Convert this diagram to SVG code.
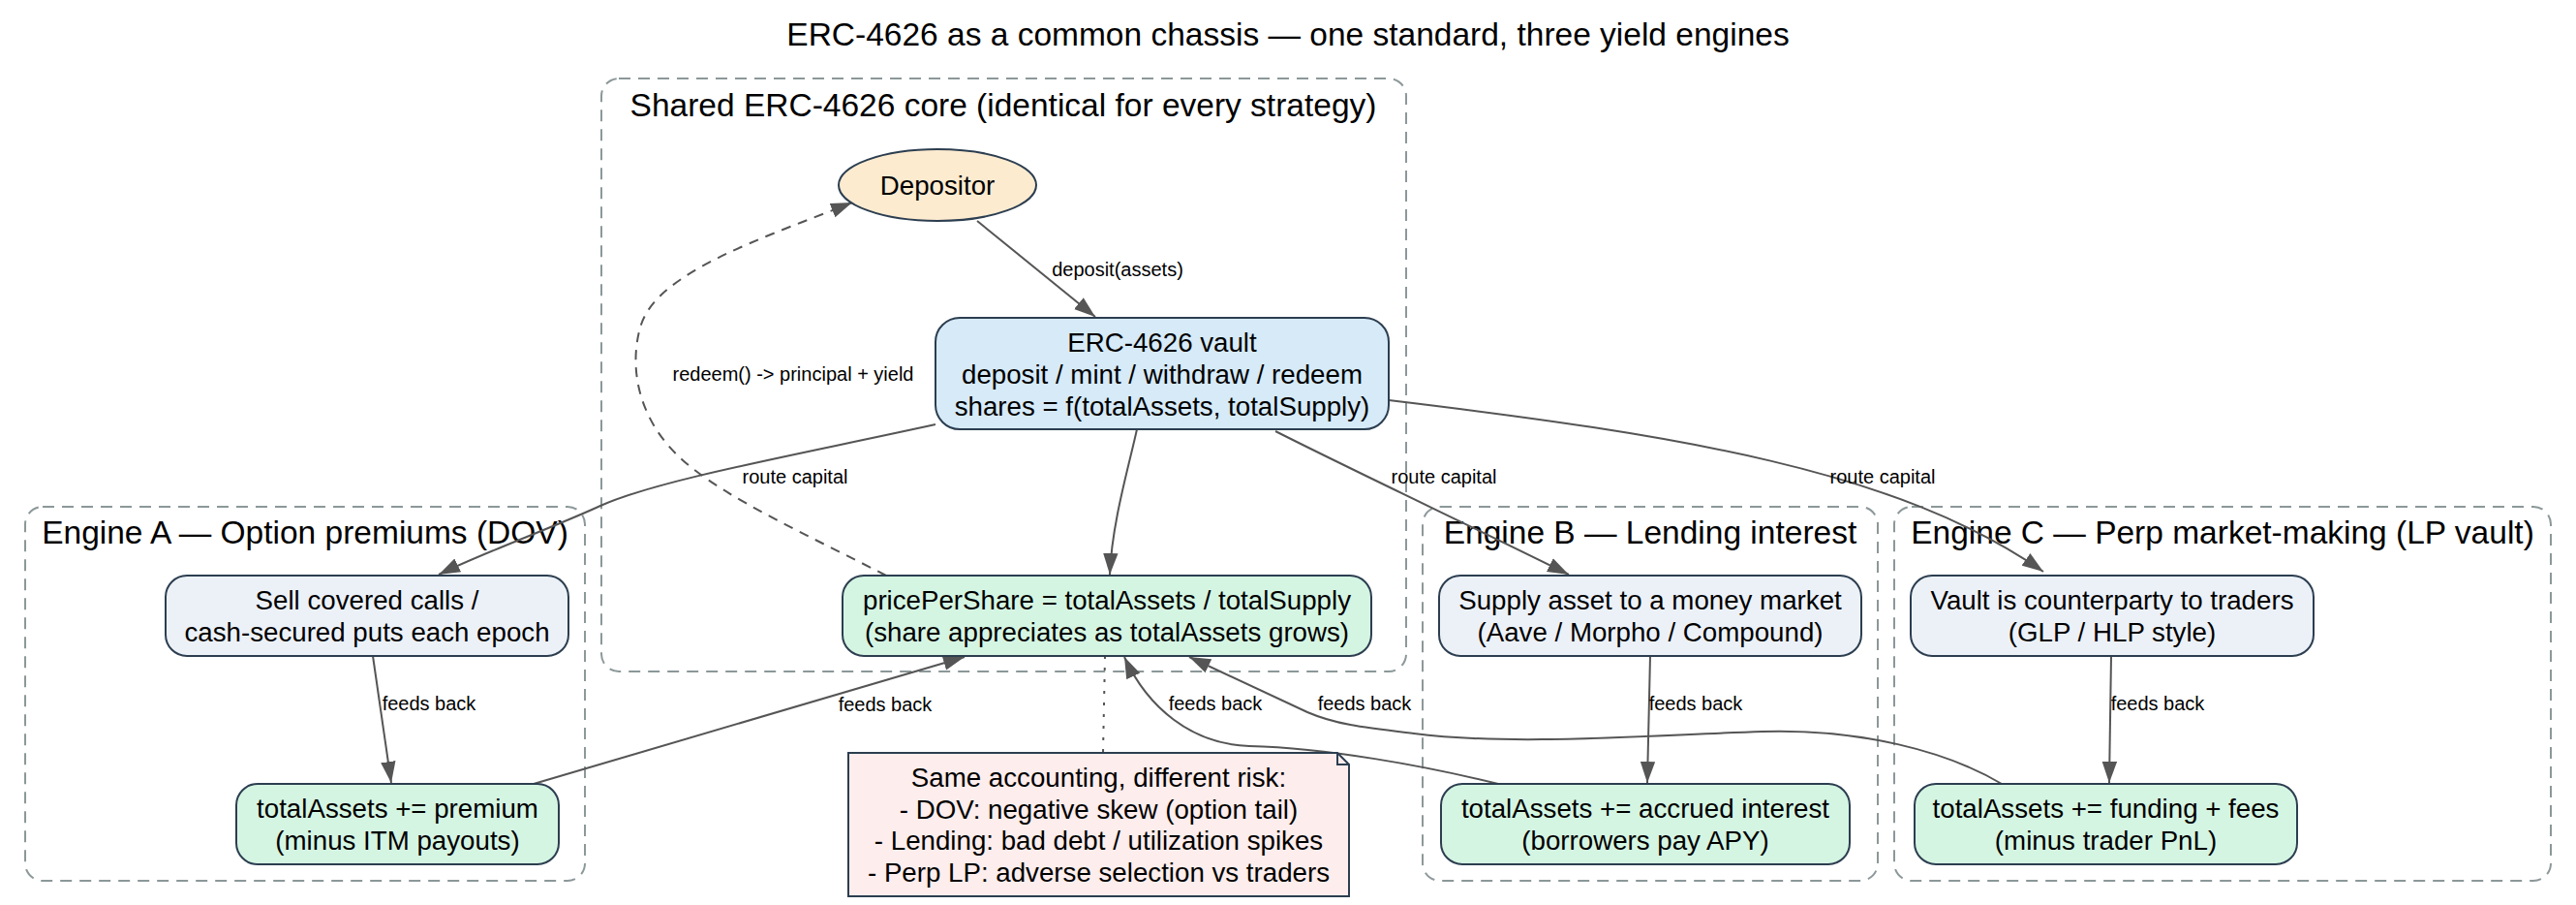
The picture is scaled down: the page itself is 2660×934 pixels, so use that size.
<svg xmlns="http://www.w3.org/2000/svg" width="2660" height="934" viewBox="0 0 2660 934">
<defs>
<style>
.cl{fill:none;stroke:#8c9899;stroke-width:2;stroke-dasharray:12,8}
.cll{font-family:"Liberation Sans",Arial,sans-serif;font-size:33.5px;fill:#000;text-anchor:middle}
.n{stroke:#2c3e50;stroke-width:2}
.nt{font-family:"Liberation Sans",Arial,sans-serif;font-size:27.7px;fill:#000;text-anchor:middle}
.e{fill:none;stroke:#555;stroke-width:2}
.el{font-family:"Liberation Sans",Arial,sans-serif;font-size:20px;fill:#000;text-anchor:middle}
.step{fill:#ecf1f8}
.res{fill:#d5f5e3}
</style>
<marker id="ah" markerUnits="userSpaceOnUse" markerWidth="22" markerHeight="16" viewBox="0 0 20 14" refX="20" refY="7" orient="auto">
<path d="M0,0 L20,7 L0,14 z" fill="#555"/>
</marker>
</defs>
<rect width="2660" height="934" fill="#fff"/>
<text x="1330" y="47" class="cll">ERC-4626 as a common chassis — one standard, three yield engines</text>

<g id="cluster_core">
<rect class="cl" x="621" y="81" width="831" height="612" rx="18"/>
<text x="1036" y="120" class="cll">Shared ERC-4626 core (identical for every strategy)</text>
</g>
<g id="cluster_A">
<rect class="cl" x="26" y="523" width="578" height="386" rx="18"/>
<text x="315" y="561" class="cll">Engine A — Option premiums (DOV)</text>
</g>
<g id="cluster_B">
<rect class="cl" x="1469" y="523" width="470" height="386" rx="18"/>
<text x="1704" y="561" class="cll">Engine B — Lending interest</text>
</g>
<g id="cluster_C">
<rect class="cl" x="1956" y="523" width="678" height="386" rx="18"/>
<text x="2295" y="561" class="cll">Engine C — Perp market-making (LP vault)</text>
</g>

<g id="connectors">
<path class="e" marker-end="url(#ah)" d="M1009,228 L1131,327"/>
<text x="1154" y="285" class="el">deposit(assets)</text>
<path class="e" marker-end="url(#ah)" d="M1174,443 C1166,480 1148,540 1146,593"/>
<path class="e" marker-end="url(#ah)" d="M966,438 C820,470 680,495 620,522 C570,545 500,570 453,593"/>
<text x="821" y="499" class="el">route capital</text>
<path class="e" marker-end="url(#ah)" d="M1317,445 C1400,487 1540,553 1620,593"/>
<text x="1491" y="499" class="el">route capital</text>
<path class="e" marker-end="url(#ah)" d="M1434,413 C1734,449 1960,485 2110,590"/>
<text x="1944" y="499" class="el">route capital</text>
<path class="e" marker-end="url(#ah)" d="M385,677 L404,808"/>
<text x="443" y="733" class="el">feeds back</text>
<path class="e" marker-end="url(#ah)" d="M551,809 L996,678"/>
<text x="914" y="734" class="el">feeds back</text>
<path class="e" marker-end="url(#ah)" d="M1704,677 L1701,808"/>
<text x="1751" y="733" class="el">feeds back</text>
<path class="e" marker-end="url(#ah)" d="M2180,677 L2178,808"/>
<text x="2228" y="733" class="el">feeds back</text>
<path class="e" marker-end="url(#ah)" d="M1547,809 C1470,790 1370,772 1290,770 C1230,768 1185,730 1161,678"/>
<text x="1255" y="733" class="el">feeds back</text>
<path class="e" marker-end="url(#ah)" d="M2067,809 C2010,775 1920,752 1820,755 C1700,759 1560,770 1460,757 C1410,751 1380,748 1350,735 L1228,678"/>
<text x="1409" y="733" class="el">feeds back</text>
<path class="e" stroke-dasharray="10,8" marker-end="url(#ah)" d="M915,594 C840,555 750,515 705,475 C660,435 648,380 662,335 C680,280 790,245 880,209"/>
<text x="819" y="393" class="el">redeem() -&gt; principal + yield</text>
<path class="e" stroke-dasharray="3,9" d="M1141,677 L1139,777"/>
</g>

<g id="depositor">
<ellipse class="n" cx="968" cy="191" rx="102" ry="37" fill="#fdebd0"/>
<text x="968" y="201" class="nt">Depositor</text>
</g>
<g id="vault">
<rect class="n" x="966" y="328" width="468" height="115" rx="25" fill="#d6eaf8"/>
<text x="1200" y="363" class="nt">ERC-4626 vault</text>
<text x="1200" y="396" class="nt">deposit / mint / withdraw / redeem</text>
<text x="1200" y="429" class="nt">shares = f(totalAssets, totalSupply)</text>
</g>
<g id="pps">
<rect class="n res" x="870" y="594" width="546" height="83" rx="22"/>
<text x="1143" y="629" class="nt">pricePerShare = totalAssets / totalSupply</text>
<text x="1143" y="662" class="nt">(share appreciates as totalAssets grows)</text>
</g>
<g id="a_step">
<rect class="n step" x="171" y="594" width="416" height="83" rx="22"/>
<text x="379" y="629" class="nt">Sell covered calls /</text>
<text x="379" y="662" class="nt">cash-secured puts each epoch</text>
</g>
<g id="a_result">
<rect class="n res" x="244" y="809" width="333" height="83" rx="22"/>
<text x="410.5" y="844" class="nt">totalAssets += premium</text>
<text x="410.5" y="877" class="nt">(minus ITM payouts)</text>
</g>
<g id="b_step">
<rect class="n step" x="1486" y="594" width="436" height="83" rx="22"/>
<text x="1704" y="629" class="nt">Supply asset to a money market</text>
<text x="1704" y="662" class="nt">(Aave / Morpho / Compound)</text>
</g>
<g id="b_result">
<rect class="n res" x="1488" y="809" width="422" height="83" rx="22"/>
<text x="1699" y="844" class="nt">totalAssets += accrued interest</text>
<text x="1699" y="877" class="nt">(borrowers pay APY)</text>
</g>
<g id="c_step">
<rect class="n step" x="1973" y="594" width="416" height="83" rx="22"/>
<text x="2181" y="629" class="nt">Vault is counterparty to traders</text>
<text x="2181" y="662" class="nt">(GLP / HLP style)</text>
</g>
<g id="c_result">
<rect class="n res" x="1977" y="809" width="395" height="83" rx="22"/>
<text x="2174.5" y="844" class="nt">totalAssets += funding + fees</text>
<text x="2174.5" y="877" class="nt">(minus trader PnL)</text>
</g>
<g id="note">
<path class="n" fill="#fdedec" d="M876,777 L1381,777 L1393,789 L1393,925 L876,925 Z"/>
<path class="n" fill="none" d="M1381,777 L1381,789 L1393,789"/>
<text x="1134.5" y="812" class="nt">Same accounting, different risk:</text>
<text x="1134.5" y="845" class="nt">- DOV: negative skew (option tail)</text>
<text x="1134.5" y="877" class="nt">- Lending: bad debt / utilization spikes</text>
<text x="1134.5" y="910" class="nt">- Perp LP: adverse selection vs traders</text>
</g>
</svg>
